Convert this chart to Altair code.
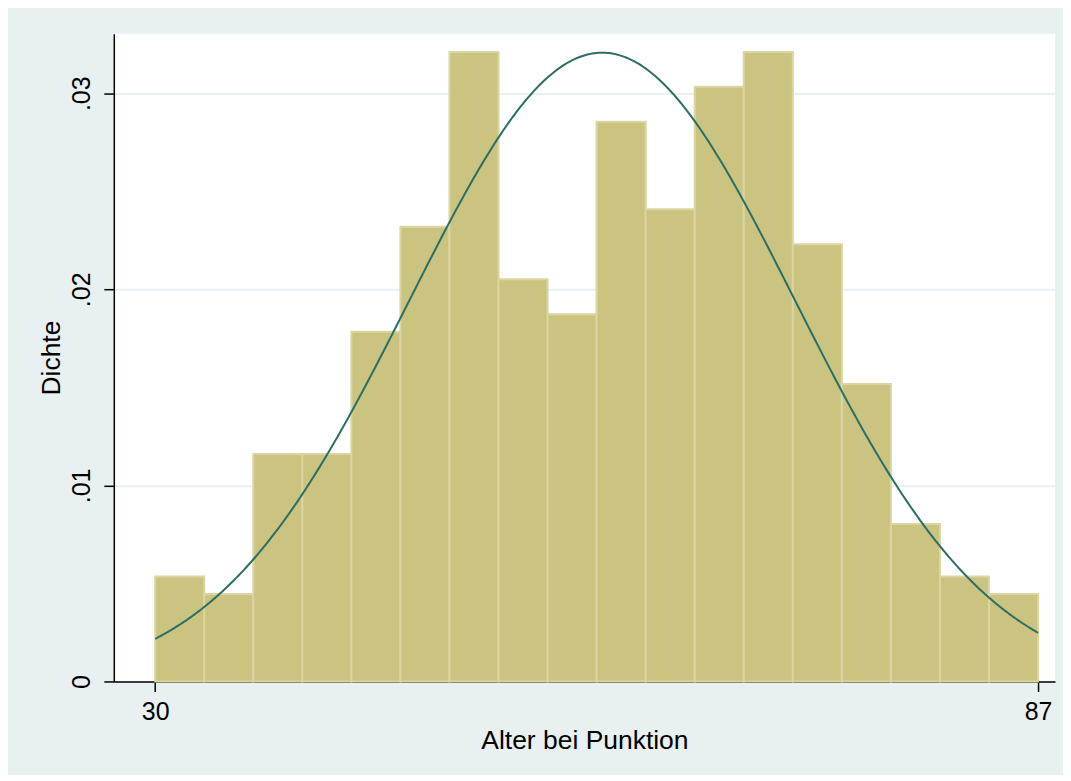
import altair as alt
import pandas as pd

# Histogram bins (Alter bei Punktion), 18 bins from 30 to 87
BIN_LEFT = [30.0, 33.1667, 36.3333, 39.5, 42.6667, 45.8333, 49.0, 52.1667, 55.3333,
            58.5, 61.6667, 64.8333, 68.0, 71.1667, 74.3333, 77.5, 80.6667, 83.8333]
BIN_RIGHT = [33.1667, 36.3333, 39.5, 42.6667, 45.8333, 49.0, 52.1667, 55.3333, 58.5,
             61.6667, 64.8333, 68.0, 71.1667, 74.3333, 77.5, 80.6667, 83.8333, 87.0]
DENSITY = [0.00535, 0.00446, 0.01160, 0.01160, 0.01784, 0.02319, 0.03211, 0.02052, 0.01873,
           0.02855, 0.02409, 0.03033, 0.03211, 0.02230, 0.01517, 0.00803, 0.00535, 0.00446]

# Normal density overlay parameters
NORM_MEAN = 58.86
NORM_SD = 12.44
NORM_FROM = 30
NORM_TO = 87

X_TICKS = [30, 87]
Y_TICKS = [0, 0.01, 0.02, 0.03]

bars_df = pd.DataFrame({"lo": BIN_LEFT, "hi": BIN_RIGHT, "dens": DENSITY})

xscale = alt.Scale(domain=[27.326, 88.096], nice=False, zero=False)
yscale = alt.Scale(domain=[0, 0.03304], nice=False)

FONT = "Liberation Sans"
LFS = 25
TFS = 26.5

xaxis = alt.Axis(values=X_TICKS, title="Alter bei Punktion", grid=False,
                 domainColor="black", domainWidth=1.5, tickColor="black", tickWidth=1.5,
                 tickSize=10, labelFont=FONT, labelFontSize=LFS, labelColor="black",
                 labelPadding=8, titleFont=FONT, titleFontSize=TFS, titleFontWeight="normal",
                 titleColor="black", titlePadding=3, labelFlush=False)

yaxis = alt.Axis(values=Y_TICKS, title="Dichte", grid=True, gridColor="#e8f0f2", gridWidth=2,
                 domainColor="black", domainWidth=1.5, tickColor="black", tickWidth=1.5,
                 tickSize=10, labelFont=FONT, labelFontSize=LFS, labelColor="black",
                 labelAngle=270, labelAlign="center", labelBaseline="bottom", labelPadding=9,
                 labelExpr="datum.value == 0 ? '0' : substring(format(datum.value, '.2f'), 1)",
                 titleFont=FONT, titleFontSize=TFS, titleFontWeight="normal", titleColor="black",
                 titlePadding=4, labelFlush=False)

bars = alt.Chart(bars_df).mark_rect(color="#cbc380", stroke="#dad5a2", strokeWidth=2).encode(
    x=alt.X("lo:Q", scale=xscale, axis=xaxis),
    x2="hi:Q",
    y=alt.Y("dens:Q", scale=yscale, axis=yaxis),
    y2=alt.datum(0),
)

curve = alt.Chart(alt.sequence(NORM_FROM, NORM_TO + 0.05, 0.1, as_="x")).transform_calculate(
    d=f"densityNormal(datum.x, {NORM_MEAN}, {NORM_SD})"
).mark_line(color="#2c6e63", strokeWidth=2).encode(
    x=alt.X("x:Q", scale=xscale),
    y=alt.Y("d:Q", scale=yscale),
)

chart = alt.layer(bars, curve).properties(
    width=943, height=649,
    autosize=alt.AutoSizeParams(type="none"),
    padding={"left": 106, "top": 25, "right": 8, "bottom": 93},
    background="#e8f0f2",
).configure_view(fill="white", strokeWidth=0)

chart.save("out.html", embed_options={"renderer": "svg", "actions": False})
